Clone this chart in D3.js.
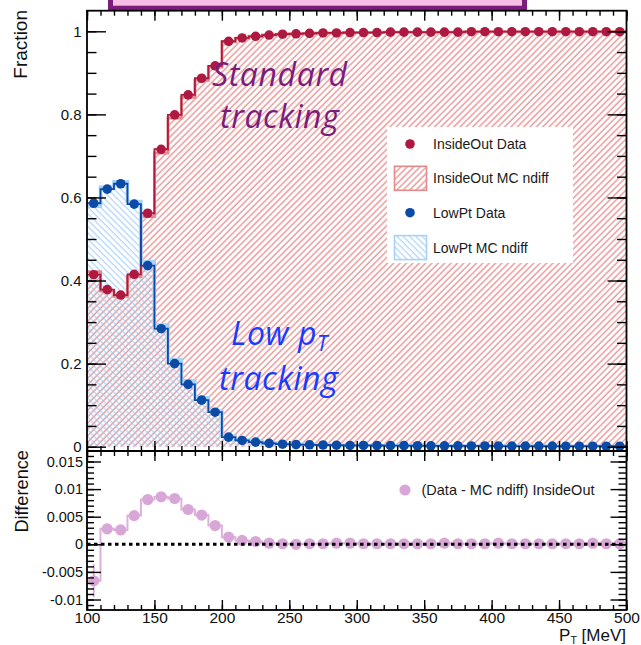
<!DOCTYPE html>
<html>
<head>
<meta charset="utf-8">
<script src="https://cdn.jsdelivr.net/npm/d3@7"></script>
<style>
  html, body { margin: 0; padding: 0; background: #fff; }
  svg { display: block; }
  .axis text { font-family: "Liberation Sans", Arial, Helvetica, sans-serif; fill: #111; }
  .axis line { stroke: #000; stroke-width: 1.4; }
</style>
</head>
<body>
<svg id="chart" width="641" height="645"></svg>
<script>
// Track pT bins (centres, MeV), 10 MeV wide
const binCenters = [105, 115, 125, 135, 145, 155, 165, 175, 185, 195,
                    205, 215, 225, 235, 245, 255, 265, 275, 285, 295,
                    305, 315, 325, 335, 345, 355, 365, 375, 385, 395,
                    405, 415, 425, 435, 445, 455, 465, 475, 485, 495];
const binHalfWidth = 5;

// Fraction of tracks reconstructed by the InsideOut (standard) pass
const insideOutData = [0.414, 0.378, 0.365, 0.415, 0.562, 0.716, 0.799, 0.847, 0.887, 0.917,
                       0.976, 0.984, 0.988, 0.991, 0.993, 0.994, 0.995, 0.996, 0.996, 0.997,
                       0.997, 0.997, 0.998, 0.998, 0.998, 0.998, 0.998, 0.998, 0.999, 0.999,
                       0.999, 0.999, 0.999, 0.999, 0.999, 0.999, 0.999, 0.999, 0.999, 0.999];
const insideOutMC   = [0.421, 0.375, 0.362, 0.410, 0.554, 0.707, 0.791, 0.841, 0.882, 0.914,
                       0.975, 0.983, 0.988, 0.991, 0.993, 0.994, 0.995, 0.996, 0.996, 0.997,
                       0.997, 0.997, 0.998, 0.998, 0.998, 0.998, 0.998, 0.998, 0.999, 0.999,
                       0.999, 0.999, 0.999, 0.999, 0.999, 0.999, 0.999, 0.999, 0.999, 0.999];

// Fraction of tracks reconstructed by the LowPt pass
const lowPtData = [0.586, 0.620, 0.633, 0.584, 0.436, 0.284, 0.200, 0.150, 0.112, 0.083,
                   0.023, 0.015, 0.011, 0.008, 0.006, 0.005, 0.0045, 0.004, 0.0035, 0.003,
                   0.003, 0.0028, 0.0025, 0.0025, 0.0022, 0.002, 0.002, 0.002, 0.0018, 0.0018,
                   0.0015, 0.0015, 0.0015, 0.0013, 0.0013, 0.0012, 0.0012, 0.0011, 0.001, 0.001];
const lowPtMC   = [0.579, 0.625, 0.638, 0.590, 0.446, 0.293, 0.209, 0.159, 0.118, 0.086,
                   0.025, 0.016, 0.012, 0.009, 0.007, 0.006, 0.005, 0.0045, 0.004, 0.0035,
                   0.003, 0.003, 0.0027, 0.0025, 0.0023, 0.0021, 0.002, 0.002, 0.0019, 0.0018,
                   0.0016, 0.0015, 0.0015, 0.0014, 0.0013, 0.0012, 0.0012, 0.0011, 0.001, 0.001];

// InsideOut: data minus MC, with statistical uncertainty
const diffInsideOut = [-0.0066, 0.0028, 0.0026, 0.0052, 0.0081, 0.0086, 0.0083, 0.0063, 0.0053, 0.0034,
                        0.0013, 0.0007, 0.0005, 0.0002, 0.0001, 0.0000, 0.0001, 0.0001, 0.0002, 0.0002,
                        0.0001, 0.0001, 0.0001, 0.0001, 0.0001, 0.0001, 0.0002, 0.0001, 0.0001, 0.0001,
                        0.0002, 0.0001, 0.0001, 0.0001, 0.0001, 0.0001, 0.0001, 0.0002, 0.0001, 0.0001];
const diffErr = [0.0030, 0.0008, 0.0006, 0.0005, 0.0004, 0.0004, 0.0003, 0.0003, 0.0003, 0.0003,
                 0.0002, 0.0002, 0.0002, 0.0001, 0.0001, 0.0001, 0.0001, 0.0001, 0.0001, 0.0001,
                 0.0001, 0.0001, 0.0001, 0.0001, 0.0001, 0.0001, 0.0001, 0.0001, 0.0001, 0.0001,
                 0.0001, 0.0001, 0.0001, 0.0001, 0.0001, 0.0001, 0.0001, 0.0001, 0.0001, 0.0001];

// Axis ticks and labels
const ptTicks = [100, 150, 200, 250, 300, 350, 400, 450, 500];
const ptTickLabels = ["100", "150", "200", "250", "300", "350", "400", "450", "500"];
const fractionTicks = [0, 0.2, 0.4, 0.6, 0.8, 1];
const fractionTickLabels = ["0", "0.2", "0.4", "0.6", "0.8", "1"];
const diffTicks = [-0.01, -0.005, 0, 0.005, 0.01, 0.015];
const diffTickLabels = ["-0.01", "-0.005", "0", "0.005", "0.01", "0.015"];

// ---- layout ----
const svg = d3.select("#chart");
const plotL = 87, plotR = 626.5;
const topT = 10.7, topB = 451, botB = 610;
const axisFont = '"Liberation Sans", Arial, Helvetica, sans-serif';

const x = d3.scaleLinear().domain([100, 500]).range([plotL, plotR]);
const yTop = d3.scaleLinear().domain([-0.0104, 1.0496]).range([topB, topT]);
const yBot = d3.scaleLinear().domain([-0.0119, 0.0169]).range([botB, topB]);

const C = {
  ioData: "#ae1942", ioMC: "#e48a8a", ioHatch: "#e46a6a",
  lpData: "#0b4ba8", lpMC: "#a8d2f6", lpHatch: "#9ccaf4",
  diff: "#d9a7d7", diffLine: "#dcb1db",
  purple: "#7c1c7c", boxFill: "#f8bfe6", blueText: "#1a3bff"
};

svg.append("rect").attr("width", 641).attr("height", 645).attr("fill", "#fff");

// hatch patterns
const defs = svg.append("defs");
function hatch(id, color, angle) {
  const p = defs.append("pattern").attr("id", id)
    .attr("patternUnits", "userSpaceOnUse")
    .attr("width", 4.5).attr("height", 4.5)
    .attr("patternTransform", `rotate(${angle})`);
  p.append("line").attr("x1", 1).attr("y1", 0).attr("x2", 1).attr("y2", 4.5)
    .attr("stroke", color).attr("stroke-width", 1);
}
hatch("hatchIO", C.ioHatch, 45);
hatch("hatchLP", C.lpHatch, -45);

defs.append("clipPath").attr("id", "clipTop").append("rect")
  .attr("x", plotL).attr("y", topT).attr("width", plotR - plotL).attr("height", topB - topT);
defs.append("clipPath").attr("id", "clipBot").append("rect")
  .attr("x", plotL).attr("y", topB).attr("width", plotR - plotL).attr("height", botB - topB);

// banner box above the frame
svg.append("rect").attr("x", 110.5).attr("y", -10).attr("width", 414).attr("height", 18.2)
  .attr("fill", C.boxFill).attr("stroke", C.purple).attr("stroke-width", 5);

// histogram step helpers
function stepPoints(vals) {
  const pts = [];
  binCenters.forEach((c, i) => {
    pts.push([c - binHalfWidth, vals[i]]);
    pts.push([c + binHalfWidth, vals[i]]);
  });
  return pts;
}
const stepArea = d3.area().x(d => x(d[0])).y0(yTop(0)).y1(d => yTop(d[1]));
const stepLineTop = d3.line().x(d => x(d[0])).y(d => yTop(d[1]));
const stepLineBot = d3.line().x(d => x(d[0])).y(d => yBot(d[1]));

// ---- top panel ----
const topPanel = svg.append("g").attr("clip-path", "url(#clipTop)");

topPanel.append("path").datum(stepPoints(insideOutMC)).attr("d", stepArea)
  .attr("fill", "url(#hatchIO)");
topPanel.append("path").datum(stepPoints(lowPtMC)).attr("d", stepArea)
  .attr("fill", "url(#hatchLP)");

// MC outlines
topPanel.append("path").datum(stepPoints(insideOutMC)).attr("d", stepLineTop)
  .attr("fill", "none").attr("stroke", C.ioMC).attr("stroke-width", 3);
topPanel.append("path").datum(stepPoints(lowPtMC)).attr("d", stepLineTop)
  .attr("fill", "none").attr("stroke", C.lpMC).attr("stroke-width", 3.5);

// data step lines
topPanel.append("path").datum(stepPoints(insideOutData)).attr("d", stepLineTop)
  .attr("fill", "none").attr("stroke", C.ioData).attr("stroke-width", 1.8);
topPanel.append("path").datum(stepPoints(lowPtData)).attr("d", stepLineTop)
  .attr("fill", "none").attr("stroke", C.lpData).attr("stroke-width", 1.8);

// data markers
topPanel.append("g").selectAll("circle").data(binCenters).join("circle")
  .attr("cx", d => x(d)).attr("cy", (d, i) => yTop(insideOutData[i])).attr("r", 4.8)
  .attr("fill", C.ioData);
topPanel.append("g").selectAll("circle").data(binCenters).join("circle")
  .attr("cx", d => x(d)).attr("cy", (d, i) => yTop(lowPtData[i])).attr("r", 4.8)
  .attr("fill", C.lpData);

// annotations
const annFont = '"Open Sans", "Noto Sans", sans-serif';
const std = svg.append("text").attr("font-family", annFont).attr("font-style", "italic")
  .attr("font-size", 32).attr("letter-spacing", 0.6).attr("fill", C.purple);
std.append("tspan").attr("x", 212).attr("y", 86).text("Standard");
std.append("tspan").attr("x", 220).attr("y", 128).text("tracking");

const low = svg.append("text").attr("font-family", annFont).attr("font-style", "italic")
  .attr("font-size", 32).attr("letter-spacing", 0.6).attr("fill", C.blueText);
low.append("tspan").attr("x", 231).attr("y", 345).text("Low p");
low.append("tspan").attr("dy", 6).attr("font-size", 21).text("T");
low.append("tspan").attr("x", 219).attr("y", 390).text("tracking");

// legend (top panel)
const leg = svg.append("g").attr("font-family", axisFont).attr("font-size", 14).attr("fill", "#1a1a1a");
leg.append("rect").attr("x", 387).attr("y", 127).attr("width", 186).attr("height", 136).attr("fill", "#fff");
const legRows = [
  { y: 144, label: "InsideOut Data", kind: "dot", color: C.ioData },
  { y: 178.3, label: "InsideOut MC ndiff", kind: "box", color: C.ioMC, fill: "url(#hatchIO)" },
  { y: 212.7, label: "LowPt Data", kind: "dot", color: C.lpData },
  { y: 247.6, label: "LowPt MC ndiff", kind: "box", color: C.lpMC, fill: "url(#hatchLP)" }
];
legRows.forEach(r => {
  if (r.kind === "dot") {
    leg.append("circle").attr("cx", 410).attr("cy", r.y).attr("r", 4.8).attr("fill", r.color);
  } else {
    leg.append("rect").attr("x", 394.5).attr("y", r.y - 12).attr("width", 32).attr("height", 24)
      .attr("fill", r.fill).attr("stroke", r.color).attr("stroke-width", 1.6);
  }
  leg.append("text").attr("x", 433).attr("y", r.y).attr("dy", "0.36em").text(r.label);
});

// ---- bottom panel ----
const botPanel = svg.append("g").attr("clip-path", "url(#clipBot)");

botPanel.append("path").datum(stepPoints(diffInsideOut)).attr("d", stepLineBot)
  .attr("fill", "none").attr("stroke", C.diffLine).attr("stroke-width", 2);

botPanel.append("g").selectAll("line").data(binCenters).join("line")
  .attr("x1", d => x(d)).attr("x2", d => x(d))
  .attr("y1", (d, i) => yBot(diffInsideOut[i] - diffErr[i]))
  .attr("y2", (d, i) => yBot(diffInsideOut[i] + diffErr[i]))
  .attr("stroke", C.diffLine).attr("stroke-width", 2);

botPanel.append("g").selectAll("circle").data(binCenters).join("circle")
  .attr("cx", d => x(d)).attr("cy", (d, i) => yBot(diffInsideOut[i])).attr("r", 5.6)
  .attr("fill", C.diff);

// zero reference line, drawn over the markers
botPanel.append("line").attr("x1", x(100)).attr("x2", x(500)).attr("y1", yBot(0)).attr("y2", yBot(0))
  .attr("stroke", "#000").attr("stroke-width", 3).attr("stroke-dasharray", "3.5,3.5");

svg.append("circle").attr("cx", 405).attr("cy", 490).attr("r", 5.6).attr("fill", C.diff);
svg.append("text").attr("x", 421.5).attr("y", 490).attr("dy", "0.36em")
  .attr("font-family", axisFont).attr("font-size", 14.5).attr("fill", "#1a1a1a")
  .text("(Data - MC ndiff) InsideOut");

// ---- axes ----
function axisGroup(tx, ty, axis) {
  const g = svg.append("g").attr("class", "axis").attr("transform", `translate(${tx},${ty})`).call(axis);
  g.select(".domain").remove();
  return g;
}
const minorPt = d3.range(100, 501, 10);
const minorFrac = d3.range(0, 1.04, 0.05);
const minorDiff = d3.range(-11, 17, 1).map(v => v / 1000);

// top panel y
axisGroup(plotL, 0, d3.axisLeft(yTop).tickValues(fractionTicks)
  .tickFormat((d, i) => fractionTickLabels[i]).tickSize(-19).tickPadding(5.5))
  .selectAll("text").attr("font-size", 15);
axisGroup(plotL, 0, d3.axisLeft(yTop).tickValues(minorFrac).tickFormat("").tickSize(-9.5));
axisGroup(plotR, 0, d3.axisRight(yTop).tickValues(fractionTicks).tickFormat("").tickSize(-19));
axisGroup(plotR, 0, d3.axisRight(yTop).tickValues(minorFrac).tickFormat("").tickSize(-9.5));
// top panel x
axisGroup(0, topT, d3.axisTop(x).tickValues(ptTicks).tickFormat("").tickSize(-10));
axisGroup(0, topT, d3.axisTop(x).tickValues(minorPt).tickFormat("").tickSize(-5));
axisGroup(0, topB, d3.axisBottom(x).tickValues(ptTicks).tickFormat("").tickSize(-10));
axisGroup(0, topB, d3.axisBottom(x).tickValues(minorPt).tickFormat("").tickSize(-5));

// bottom panel y
axisGroup(plotL, 0, d3.axisLeft(yBot).tickValues(diffTicks)
  .tickFormat((d, i) => diffTickLabels[i]).tickSize(-14).tickPadding(4))
  .selectAll("text").attr("font-size", 14.5);
axisGroup(plotL, 0, d3.axisLeft(yBot).tickValues(minorDiff).tickFormat("").tickSize(-7));
axisGroup(plotR, 0, d3.axisRight(yBot).tickValues(diffTicks).tickFormat("").tickSize(-16));
axisGroup(plotR, 0, d3.axisRight(yBot).tickValues(minorDiff).tickFormat("").tickSize(-8));
// bottom panel x
axisGroup(0, topB, d3.axisTop(x).tickValues(ptTicks).tickFormat("").tickSize(-10));
axisGroup(0, topB, d3.axisTop(x).tickValues(minorPt).tickFormat("").tickSize(-5));
axisGroup(0, botB, d3.axisBottom(x).tickValues(ptTicks)
  .tickFormat((d, i) => ptTickLabels[i]).tickSize(-10).tickPadding(1.5))
  .selectAll("text").attr("font-size", 15.5);
axisGroup(0, botB, d3.axisBottom(x).tickValues(minorPt).tickFormat("").tickSize(-5));

// frames
svg.append("rect").attr("x", plotL).attr("y", topT).attr("width", plotR - plotL).attr("height", topB - topT)
  .attr("fill", "none").attr("stroke", "#000").attr("stroke-width", 1.8);
svg.append("rect").attr("x", plotL).attr("y", topB).attr("width", plotR - plotL).attr("height", botB - topB)
  .attr("fill", "none").attr("stroke", "#000").attr("stroke-width", 1.8);

// axis titles
svg.append("text").attr("transform", "translate(26.5,10) rotate(-90)")
  .attr("text-anchor", "end").attr("font-family", axisFont).attr("font-size", 19)
  .attr("fill", "#111").text("Fraction");
svg.append("text").attr("transform", "translate(28,450) rotate(-90)")
  .attr("text-anchor", "end").attr("font-family", axisFont).attr("font-size", 18.2)
  .attr("fill", "#111").text("Difference");
const xt = svg.append("text").attr("x", 626).attr("y", 641.2).attr("text-anchor", "end")
  .attr("font-family", axisFont).attr("font-size", 17).attr("fill", "#111");
xt.append("tspan").text("P");
xt.append("tspan").attr("dy", 2.5).attr("font-size", 10.5).text("T");
xt.append("tspan").attr("dy", -2.5).text(" [MeV]");
</script>
</body>
</html>
